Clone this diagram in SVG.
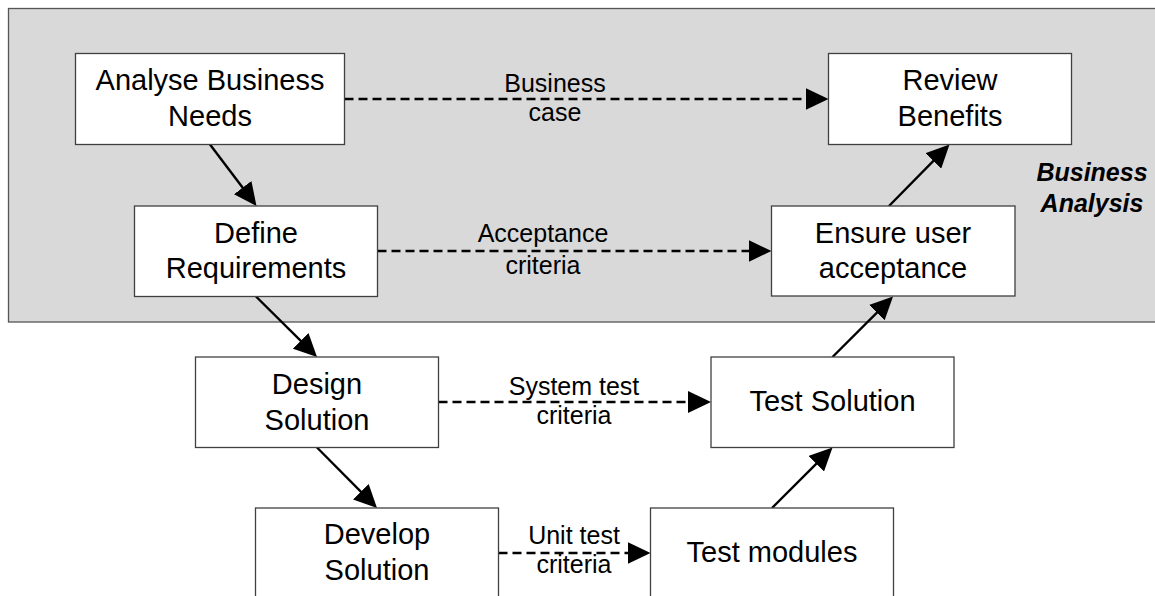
<svg xmlns="http://www.w3.org/2000/svg" width="1155" height="596" viewBox="0 0 1155 596">
<style>
.bg{fill:#d9d9d9;stroke:#555555;stroke-width:1.3}
.box{fill:#ffffff;stroke:#404040;stroke-width:1.3}
.nt{font-family:"Liberation Sans",Arial,sans-serif;font-size:29px;fill:#000;text-anchor:middle}
.lt{font-family:"Liberation Sans",Arial,sans-serif;font-size:25px;fill:#000;text-anchor:middle}
.bt{font-family:"Liberation Sans",Arial,sans-serif;font-size:25px;font-weight:bold;font-style:italic;fill:#000;text-anchor:middle}
.solid{stroke:#000;stroke-width:2.4;fill:none;marker-end:url(#ah)}
.dash{stroke:#000;stroke-width:2.4;fill:none;stroke-dasharray:9 5;marker-end:url(#ah)}
</style>
<defs>
<marker id="ah" markerUnits="userSpaceOnUse" markerWidth="23" markerHeight="22" refX="19" refY="11" orient="auto" viewBox="0 0 23 22">
<path d="M0,0 L23,11 L0,22 Z" fill="#000" stroke="none"/>
</marker>
</defs>
<rect id="business-analysis-area" class="bg" x="8.5" y="8.5" width="1160" height="313.5"/>
<text class="bt" x="1092" y="181">Business</text>
<text class="bt" x="1092" y="212">Analysis</text>

<g id="connectors">
<line class="solid" x1="210" y1="144.5" x2="254.1" y2="202.8"/>
<line class="solid" x1="256" y1="296.5" x2="314.2" y2="354.2"/>
<line class="solid" x1="317" y1="447.5" x2="374.2" y2="505.2"/>
<line class="solid" x1="772" y1="508" x2="829.7" y2="450.3"/>
<line class="solid" x1="832.5" y1="357" x2="890.2" y2="299.3"/>
<line class="solid" x1="889" y1="206" x2="946.7" y2="147.4"/>
<line class="dash" x1="344.5" y1="99" x2="824.5" y2="99"/>
<line class="dash" x1="377.5" y1="251" x2="767.5" y2="251"/>
<line class="dash" x1="438.5" y1="402" x2="707" y2="402"/>
<line class="dash" x1="498.5" y1="553" x2="646.5" y2="553"/>
<text class="lt" x="555" y="91.5">Business</text>
<text class="lt" x="555" y="121">case</text>
<text class="lt" x="543" y="241.5">Acceptance</text>
<text class="lt" x="543" y="274">criteria</text>
<text class="lt" x="574" y="395">System test</text>
<text class="lt" x="574" y="424">criteria</text>
<text class="lt" x="574" y="543.5">Unit test</text>
<text class="lt" x="574" y="572.5">criteria</text>
</g>

<g id="analyse">
<rect class="box" x="75.5" y="53.5" width="269" height="91"/>
<text class="nt" x="210" y="89.5">Analyse Business</text>
<text class="nt" x="210" y="125.5">Needs</text>
</g>
<g id="review">
<rect class="box" x="828.5" y="53.5" width="243" height="91"/>
<text class="nt" x="950" y="89.5">Review</text>
<text class="nt" x="950" y="125.5">Benefits</text>
</g>
<g id="define">
<rect class="box" x="134.5" y="206" width="243" height="90.5"/>
<text class="nt" x="256" y="243">Define</text>
<text class="nt" x="256" y="278">Requirements</text>
</g>
<g id="ensure">
<rect class="box" x="771.5" y="206" width="243.5" height="90"/>
<text class="nt" x="893" y="243">Ensure user</text>
<text class="nt" x="893" y="277.5">acceptance</text>
</g>
<g id="design">
<rect class="box" x="195.5" y="357" width="243" height="90.5"/>
<text class="nt" x="317" y="393.5">Design</text>
<text class="nt" x="317" y="429.5">Solution</text>
</g>
<g id="test-solution">
<rect class="box" x="711" y="357" width="243" height="90.5"/>
<text class="nt" x="832.5" y="411">Test Solution</text>
</g>
<g id="develop">
<rect class="box" x="255.5" y="508" width="243" height="100"/>
<text class="nt" x="377" y="543.5">Develop</text>
<text class="nt" x="377" y="579.5">Solution</text>
</g>
<g id="test-modules">
<rect class="box" x="650.5" y="508" width="243" height="100"/>
<text class="nt" x="772" y="562">Test modules</text>
</g>
</svg>
